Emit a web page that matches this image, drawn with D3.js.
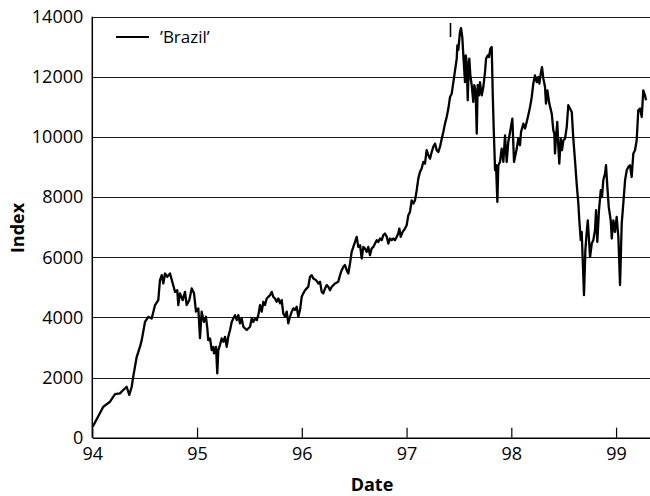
<!DOCTYPE html>
<html>
<head>
<meta charset="utf-8">
<script src="https://cdn.jsdelivr.net/npm/d3@7"></script>
<style>
  html, body { margin: 0; padding: 0; background: #fff; }
  svg { display: block; }
  text { font-family: "Open Sans", "DejaVu Sans", sans-serif; fill: #000; }
</style>
</head>
<body>
<svg id="chart" width="650" height="496"></svg>
<script>
// Brazil stock index, 1994 – early 1999 (decimal year, index level)
const dates = [
  94.004, 94.105, 94.169, 94.217, 94.264, 94.296, 94.328, 94.353, 94.376, 94.391,
  94.424, 94.455, 94.472, 94.503, 94.535, 94.567, 94.599, 94.630, 94.646, 94.663,
  94.678, 94.694, 94.716, 94.742, 94.768, 94.790, 94.811, 94.821, 94.837, 94.863,
  94.885, 94.901, 94.926, 94.949, 94.971, 94.990, 95.012, 95.022, 95.028, 95.044,
  95.066, 95.085, 95.098, 95.107, 95.124, 95.140, 95.155, 95.162, 95.181, 95.193,
  95.203, 95.219, 95.235, 95.251, 95.267, 95.283, 95.298, 95.315, 95.331, 95.346,
  95.362, 95.379, 95.394, 95.410, 95.426, 95.442, 95.474, 95.506, 95.522, 95.537,
  95.553, 95.570, 95.585, 95.601, 95.617, 95.633, 95.649, 95.665, 95.697, 95.713,
  95.728, 95.744, 95.760, 95.776, 95.792, 95.808, 95.823, 95.840, 95.856, 95.871,
  95.887, 95.904, 95.919, 95.935, 95.951, 95.967, 95.983, 95.999, 96.014, 96.031,
  96.047, 96.062, 96.078, 96.095, 96.110, 96.136, 96.158, 96.174, 96.190, 96.205,
  96.222, 96.238, 96.253, 96.269, 96.286, 96.317, 96.348, 96.365, 96.381, 96.396,
  96.412, 96.429, 96.444, 96.460, 96.476, 96.492, 96.508, 96.524, 96.539, 96.556,
  96.572, 96.587, 96.603, 96.620, 96.635, 96.651, 96.667, 96.683, 96.699, 96.715,
  96.730, 96.747, 96.763, 96.778, 96.794, 96.811, 96.826, 96.842, 96.858, 96.874,
  96.890, 96.906, 96.921, 96.931, 96.944, 96.963, 96.985, 97.001, 97.017, 97.033,
  97.049, 97.065, 97.081, 97.097, 97.112, 97.128, 97.144, 97.160, 97.176, 97.192,
  97.208, 97.224, 97.240, 97.255, 97.272, 97.288, 97.303, 97.319, 97.336, 97.351,
  97.367, 97.383, 97.399, 97.415, 97.431, 97.447, 97.463, 97.479, 97.485, 97.494,
  97.510, 97.520, 97.532, 97.542, 97.551, 97.558, 97.565, 97.574, 97.584, 97.589,
  97.599, 97.609, 97.622, 97.637, 97.647, 97.660, 97.670, 97.679, 97.692, 97.701,
  97.718, 97.733, 97.749, 97.759, 97.775, 97.787, 97.800, 97.813, 97.823, 97.832,
  97.845, 97.854, 97.867, 97.876, 97.892, 97.908, 97.924, 97.940, 97.956, 97.971,
  97.988, 98.010, 98.026, 98.052, 98.067, 98.083, 98.093, 98.115, 98.131, 98.147,
  98.162, 98.179, 98.195, 98.210, 98.226, 98.243, 98.258, 98.268, 98.281, 98.293,
  98.306, 98.322, 98.331, 98.344, 98.363, 98.386, 98.401, 98.411, 98.417, 98.427,
  98.439, 98.449, 98.458, 98.472, 98.484, 98.497, 98.513, 98.529, 98.544, 98.560,
  98.577, 98.592, 98.608, 98.624, 98.640, 98.649, 98.663, 98.672, 98.682, 98.694,
  98.707, 98.720, 98.730, 98.742, 98.752, 98.768, 98.783, 98.799, 98.809, 98.821,
  98.837, 98.854, 98.866, 98.878, 98.895, 98.904, 98.917, 98.930, 98.949, 98.959,
  98.974, 98.990, 99.006, 99.022, 99.038, 99.054, 99.069, 99.086, 99.102, 99.117,
  99.133, 99.149, 99.165, 99.181, 99.197, 99.212, 99.229, 99.245, 99.260, 99.276,
  99.286
];
const values = [
    365,  1030,  1196,  1450,  1475,  1585,  1695,  1420,  1695,  2030,
   2690,  3020,  3245,  3850,  4020,  3965,  4410,  4575,  5240,  5405,
   5130,  5460,  5350,  5460,  5130,  4850,  4905,  4410,  4800,  4575,
   4850,  4410,  4575,  4965,  4800,  4190,  4300,  3700,  3310,  4190,
   3850,  4020,  3635,  3245,  3300,  2915,  3020,  2805,  3020,  2140,
   2915,  3080,  3300,  3190,  3355,  3020,  3355,  3580,  3850,  3965,
   4075,  3910,  4075,  3800,  3965,  3690,  3580,  3690,  3965,  3850,
   3965,  3910,  4075,  4410,  4190,  4520,  4410,  4630,  4740,  4850,
   4685,  4630,  4520,  4630,  4465,  4575,  4130,  4020,  4190,  3800,
   4020,  4190,  4300,  4245,  4355,  4020,  4245,  4685,  4800,  4905,
   4965,  5020,  5350,  5405,  5295,  5240,  5130,  5185,  4850,  4800,
   4965,  5075,  5020,  4905,  5020,  5130,  5185,  5405,  5570,  5680,
   5740,  5570,  5460,  5790,  6180,  6345,  6510,  6680,  6345,  6400,
   5960,  6345,  6290,  6180,  6345,  6070,  6290,  6345,  6455,  6570,
   6510,  6625,  6570,  6735,  6790,  6680,  6455,  6625,  6570,  6625,
   6570,  6680,  6790,  6955,  6680,  6845,  6955,  7065,  7400,  7510,
   7895,  7785,  7900,  8230,  8615,  8835,  8950,  9170,  9115,  9560,
   9390,  9280,  9500,  9670,  9780,  9560,  9500,  9670,  9945, 10165,
  10445, 10665, 10945, 11330, 11440, 11825, 12215, 12605, 13045, 12900,
  13490, 13620, 13320, 12715, 12215, 11825, 12715, 12495, 11220, 11825,
  12605, 12050, 11720, 11165, 11720, 11495, 10110, 11720, 11385, 11825,
  11385, 11660, 12160, 12605, 12715, 12660, 12935, 12990, 11385, 10280,
   8895,  9060,  7840,  9060,  9170,  9615,  9170, 10055,  9170,  9835,
  10165, 10610,  9170,  9615,  9945,  9725, 10165, 10445, 10280, 10500,
  10720, 10995, 11330, 11775, 12050, 11825, 11995, 11775, 12105, 12325,
  11940, 11660, 11110, 11550, 11110, 10775, 10220, 10110,  9450, 10000,
  10500,  9670,  9115,  9945,  9560,  9890,  9945, 10330, 11055, 10945,
  10830,  9945,  9225,  8450,  7785,  7230,  6570,  6845,  5905,  4740,
   6235,  6845,  7230,  6570,  6015,  6455,  6570,  6900,  7565,  6510,
   7565,  8230,  8005,  8560,  8785,  9060,  8340,  7675,  7230,  6625,
   7230,  6845,  7340,  6680,  5075,  7120,  7785,  8560,  8895,  9005,
   9060,  8670,  9450,  9560,  9890, 10890, 10945, 10665, 11550, 11385,
  11220
];
const yearTicks = [94, 95, 96, 97, 98, 99];
const yearLabels = ["94", "95", "96", "97", "98", "99"];
const indexTicks = [0, 2000, 4000, 6000, 8000, 10000, 12000, 14000];
const seriesName = "\u2019Brazil\u2019";

const svg = d3.select("#chart");
const margin = { left: 92.3, right: 650, top: 16.7, bottom: 437.7 };

const x = d3.scaleLinear().domain([94, 99.324]).range([margin.left, margin.right]);
const y = d3.scaleLinear().domain([0, 14000]).range([margin.bottom, margin.top]);

const points = dates.map((d, i) => ({ t: d, v: values[i] }));

// horizontal grid lines
svg.append("g")
  .selectAll("line")
  .data(indexTicks.filter(d => d > 0))
  .join("line")
  .attr("x1", margin.left).attr("x2", margin.right)
  .attr("y1", d => Math.round(y(d)) + 0.5).attr("y2", d => Math.round(y(d)) + 0.5)
  .attr("stroke", "#1a1a1a").attr("stroke-width", 1.2);

// y axis: labels only, plus the vertical spine
const yAxis = svg.append("g")
  .attr("transform", `translate(${margin.left},0)`)
  .call(d3.axisLeft(y).tickValues(indexTicks).tickSize(0).tickPadding(9).tickFormat(d3.format("d")));
yAxis.select(".domain").remove();
yAxis.selectAll("text").style("font-size", "18px").attr("font-family", null);
svg.append("line")
  .attr("x1", margin.left).attr("x2", margin.left)
  .attr("y1", margin.top).attr("y2", margin.bottom)
  .attr("stroke", "#000").attr("stroke-width", 1.5);

// x axis with inward ticks
const xAxis = svg.append("g")
  .attr("transform", `translate(0,${margin.bottom})`)
  .call(d3.axisBottom(x).tickValues(yearTicks).tickSizeInner(-10).tickSizeOuter(0)
    .tickPadding(10).tickFormat((d, i) => yearLabels[i]));
xAxis.select(".domain").attr("stroke-width", 1.5);
xAxis.selectAll(".tick line").attr("stroke-width", 1.2);
xAxis.selectAll("text").style("font-size", "18px").attr("font-family", null);

// series line
svg.append("path")
  .datum(points)
  .attr("fill", "none")
  .attr("stroke", "#000")
  .attr("stroke-width", 2.3)
  .attr("stroke-linejoin", "round")
  .attr("d", d3.line().x(d => x(d.t)).y(d => y(d.v)));

// small vertical marker above the 1997 peak
svg.append("line")
  .attr("x1", 450.5).attr("x2", 450.5).attr("y1", 23).attr("y2", 37)
  .attr("stroke", "#000").attr("stroke-width", 1.6);

// legend
svg.append("line")
  .attr("x1", 116).attr("x2", 149).attr("y1", 37).attr("y2", 37)
  .attr("stroke", "#000").attr("stroke-width", 2);
svg.append("text")
  .attr("x", 160).attr("y", 43)
  .style("font-size", "17px")
  .text(seriesName);

// axis titles
svg.append("text")
  .attr("x", 372).attr("y", 491)
  .attr("text-anchor", "middle")
  .style("font-size", "18px").style("font-weight", "bold")
  .text("Date");
svg.append("text")
  .attr("transform", "translate(24,228) rotate(-90)")
  .attr("text-anchor", "middle")
  .style("font-size", "18px").style("font-weight", "bold")
  .text("Index");
</script>
</body>
</html>
